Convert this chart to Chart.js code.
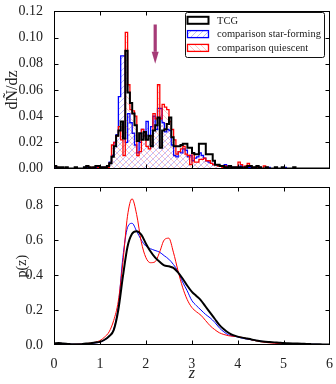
<!DOCTYPE html>
<html><head><meta charset="utf-8">
<script src="https://cdn.jsdelivr.net/npm/chart.js@4/dist/chart.umd.min.js"></script>
<style>
html,body{margin:0;padding:0;background:#fff;}
#wrap{position:relative;width:336px;height:384px;overflow:hidden;}
#c1{position:absolute;left:0;top:0;}
#c2{position:absolute;left:0;top:176px;}
</style></head><body>
<div id="wrap">
<canvas id="c1" width="336" height="180"></canvas>
<canvas id="c2" width="336" height="208"></canvas>
</div>
<script>
// ---- data ----
const seriesLabels = ['TCG', 'comparison star-forming', 'comparison quiescent'];
const binStart = 0, binWidth = 0.05; // histogram bins: 0.00 .. 6.00
const histTCG = [
 0.002,0.002,0.001,0.001,0.001,0,0.001,0,0,0, 0.001,0,0,0,0.001,0.002,0.001,0,0.001,0.002,
 0.002,0.001,0.001,0.001,0.002,0.004,0.009,0.017,0.025,0.029, 0.036,0.023,0.090,0.058,0.050,0.042,0.033,0.021,0.027,0.022,
 0.028,0.022,0.025,0.017,0.029,0.033,0.039,0.016,0.029,0.030, 0.034,0.039,0.024,0.017,0.017,0.017,0.018,0.019,0.019,0.016,
 0.016,0.012,0.011,0.011,0.019,0.019,0.019,0.011,0.011,0.011, 0.006,0.003,0.003,0.002,0.002,0.001,0.001,0.002,0.001,0.001,
 0.001,0.001,0.001,0,0.001,0.002,0.002,0.001,0.001,0.002, 0.001,0,0,0.001,0,0,0,0.001,0,0,
 0.001,0,0,0,0,0.001,0,0,0,0, 0,0,0,0,0,0,0,0,0,0];
const histSF = [
 0.001,0.001,0,0,0,0,0,0,0,0, 0,0,0,0,0.001,0.001,0,0,0,0.001,
 0.001,0.001,0.001,0.001,0.002,0.005,0.010,0.020,0.026,0.055, 0.086,0.086,0.020,0.042,0.035,0.027,0.018,0.012,0.020,0.030,
 0.025,0.036,0.025,0.032,0.040,0.030,0.046,0.046,0.035,0.028, 0.030,0.029,0.018,0.010,0.009,0.013,0.012,0.015,0.014,0.009,
 0.010,0.006,0.008,0.009,0.012,0.010,0.008,0.006,0.005,0.004, 0.003,0.003,0.003,0.002,0.002,0.003,0.002,0.002,0.001,0.001,
 0.001,0.001,0.002,0.001,0.001,0.001,0.001,0,0.001,0, 0.001,0,0,0,0.001,0,0,0,0,0,
 0,0.001,0,0,0,0,0,0,0,0, 0,0,0,0,0,0,0,0,0,0];
const histQ = [
 0,0,0.001,0,0,0,0,0,0,0, 0,0,0,0,0,0,0.001,0.001,0.001,0,
 0.001,0,0.001,0.001,0.001,0.004,0.018,0.020,0.025,0.032, 0.022,0.010,0.104,0.064,0.045,0.044,0.040,0.010,0.013,0.030,
 0.025,0.017,0.015,0.025,0.042,0.038,0.064,0.038,0.049,0.047, 0.045,0.036,0.030,0.022,0.011,0.013,0.015,0.017,0.011,0.010,
 0.003,0.012,0.005,0.005,0.007,0.007,0.008,0.006,0.006,0.004, 0.003,0.003,0.002,0.002,0.001,0.002,0.001,0.001,0.001,0.001,
 0.001,0.005,0.003,0.001,0.002,0.004,0.002,0.001,0.001,0.001, 0,0,0.002,0.001,0,0,0,0,0,0,
 0,0,0,0,0,0,0,0,0,0, 0,0,0,0,0,0,0,0,0,0];

const zGrid = [0,0.1,0.2,0.3,0.4,0.5,0.6,0.7,0.8,0.9,1.0,1.1,1.2,1.3,1.4,1.5,1.6,1.7,1.8,1.9,2.0,2.1,2.2,2.3,2.4,2.5,2.6,2.7,2.8,2.9,3.0,3.1,3.2,3.3,3.4,3.5,3.6,3.7,3.8,3.9,4.0,4.1,4.2,4.3,4.4,4.5,4.6,4.7,4.8,4.9,5.0,5.1,5.2,5.3,5.4,5.5,5.6,5.7,5.8,5.9,6.0];
const pzTCG = [0.008,0.012,0.008,0.006,0.004,0.004,0.005,0.008,0.010,0.014,0.018,0.030,0.050,0.085,0.20,0.39,0.56,0.635,0.65,0.63,0.58,0.535,0.50,0.475,0.455,0.45,0.44,0.415,0.38,0.34,0.305,0.28,0.255,0.22,0.185,0.15,0.115,0.09,0.07,0.056,0.048,0.042,0.037,0.032,0.026,0.022,0.019,0.017,0.015,0.013,0.011,0.010,0.009,0.008,0.007,0.006,0.005,0.004,0.004,0.003,0.003];
const pzSF = [0.006,0.010,0.007,0.005,0.004,0.004,0.005,0.007,0.009,0.012,0.016,0.028,0.048,0.09,0.22,0.50,0.67,0.695,0.65,0.60,0.565,0.55,0.54,0.53,0.51,0.49,0.46,0.42,0.36,0.31,0.255,0.225,0.20,0.175,0.155,0.13,0.098,0.075,0.058,0.051,0.046,0.039,0.034,0.030,0.026,0.022,0.018,0.015,0.013,0.011,0.009,0.008,0.007,0.006,0.005,0.005,0.004,0.004,0.003,0.003,0.002];
const pzQ = [0.004,0.006,0.005,0.004,0.003,0.004,0.005,0.008,0.011,0.016,0.025,0.045,0.075,0.14,0.25,0.47,0.735,0.835,0.745,0.59,0.50,0.47,0.475,0.53,0.60,0.61,0.53,0.425,0.33,0.26,0.215,0.19,0.17,0.14,0.11,0.088,0.07,0.06,0.053,0.05,0.048,0.043,0.037,0.030,0.024,0.019,0.015,0.012,0.010,0.008,0.007,0.006,0.005,0.004,0.004,0.003,0.003,0.002,0.002,0.002,0.002];

const xTicks = [0,1,2,3,4,5,6];
const yTicksTop = [0,0.02,0.04,0.06,0.08,0.10,0.12];
const yTicksBottom = [0,0.2,0.4,0.6,0.8];
const arrowZ = 2.2, arrowFrom = 0.110, arrowTo = 0.080;

// ---- helpers ----
const FONT = 'Liberation Serif';
const TXT = '#222';
function stepPts(h){
  const pts = h.map((v,i)=>({x:+(binStart+i*binWidth).toFixed(2), y:v}));
  pts.push({x:+(binStart+h.length*binWidth).toFixed(2), y:h[h.length-1]});
  return pts;
}
function curvePts(p){ return zGrid.map((z,i)=>({x:z,y:p[i]})); }
function hatch(color, dir){
  const s = 6, c = document.createElement('canvas'); c.width = c.height = s;
  const g = c.getContext('2d'); g.strokeStyle = color; g.lineWidth = 0.8; g.beginPath();
  if (dir > 0) {
    g.moveTo(-1,s+1); g.lineTo(s+1,-1);
    g.moveTo(-s/2-1,s/2+1); g.lineTo(s/2+1,-s/2-1);
    g.moveTo(s/2-1,s*1.5+1); g.lineTo(s*1.5+1,s/2-1);
  } else {
    g.moveTo(-1,-1); g.lineTo(s+1,s+1);
    g.moveTo(-s/2-1,s/2-1); g.lineTo(s/2+1,s*1.5+1);
    g.moveTo(s/2-1,-s/2-1); g.lineTo(s*1.5+1,s/2+1);
  }
  g.stroke();
  return g.createPattern(c,'repeat');
}
const hatchSF = hatch('rgba(60,60,255,0.45)', 1);
const hatchQ = hatch('rgba(255,60,60,0.38)', -1);

const framePlugin = {
  id:'frame',
  afterDraw(chart){
    const {ctx, chartArea:a, scales} = chart;
    ctx.save(); ctx.strokeStyle = '#000'; ctx.lineWidth = 1;
    const L = Math.round(a.left)+0.5, R = Math.round(a.right)-0.5, T = Math.round(a.top)+0.5, B = Math.round(a.bottom)-0.5;
    ctx.strokeRect(L, T, R-L, B-T);
    ctx.beginPath();
    scales.x.ticks.forEach(t=>{
      const px = Math.round(scales.x.getPixelForValue(t.value))+0.5;
      if (px <= L+1 || px >= R-1) return;
      ctx.moveTo(px,B); ctx.lineTo(px,B-4); ctx.moveTo(px,T); ctx.lineTo(px,T+4);
    });
    scales.y.ticks.forEach(t=>{
      const py = Math.round(scales.y.getPixelForValue(t.value))+0.5;
      if (py <= T+1 || py >= B-1) return;
      ctx.moveTo(L,py); ctx.lineTo(L+4,py); ctx.moveTo(R,py); ctx.lineTo(R-4,py);
    });
    ctx.stroke(); ctx.restore();
  }
};
const arrowPlugin = {
  id:'arrow',
  afterDatasetsDraw(chart){
    const {ctx, scales:{x,y}} = chart;
    const px = x.getPixelForValue(arrowZ), y0 = y.getPixelForValue(arrowFrom), y1 = y.getPixelForValue(arrowTo);
    const head = 12, hw = 3.5, sw = 1.6;
    ctx.save(); ctx.fillStyle = 'rgba(150,25,95,0.85)';
    ctx.fillRect(px-sw, y0, sw*2, (y1-head)-y0);
    ctx.beginPath(); ctx.moveTo(px-hw, y1-head); ctx.lineTo(px+hw, y1-head); ctx.lineTo(px, y1); ctx.closePath(); ctx.fill();
    ctx.restore();
  }
};
const legendPlugin = {
  id:'boxlegend',
  afterDraw(chart){
    const {ctx} = chart;
    const bx = 185.5, by = 12.5, bw = 139, bh = 45;
    ctx.save();
    ctx.fillStyle = '#fff'; ctx.strokeStyle = '#111'; ctx.lineWidth = 1;
    ctx.beginPath(); ctx.roundRect(bx, by, bw, bh, 2); ctx.fill(); ctx.stroke();
    ctx.font = '10.5px "' + FONT + '"'; ctx.textBaseline = 'middle'; ctx.fillStyle = TXT;
    chart.data.datasets.forEach((d,i)=>{
      const cy = 20.3 + i*13.8;
      const rx = 187.5, ry = cy-3.5, rw = 21, rh = 7;
      if (d.fill) { ctx.fillStyle = d.backgroundColor; ctx.fillRect(rx, ry, rw, rh); }
      ctx.strokeStyle = d.borderColor; ctx.lineWidth = d.borderWidth;
      ctx.strokeRect(rx, ry, rw, rh);
      ctx.fillStyle = TXT; ctx.fillText(d.label, 217, cy+0.5);
    });
    ctx.restore();
  }
};
const fixedTicks = arr => s => { s.ticks = arr.map(v=>({value:v})); };

// ---- top panel: histograms ----
new Chart(document.getElementById('c1'), {
  type:'line',
  data:{datasets:[
    {label:seriesLabels[0], data:stepPts(histTCG), stepped:'after', borderColor:'#000', borderWidth:2, fill:false, pointRadius:0, order:0},
    {label:seriesLabels[1], data:stepPts(histSF), stepped:'after', borderColor:'#0000ff', borderWidth:1.3, backgroundColor:hatchSF, fill:'origin', pointRadius:0, order:2},
    {label:seriesLabels[2], data:stepPts(histQ), stepped:'after', borderColor:'#ff0000', borderWidth:1.3, backgroundColor:hatchQ, fill:'origin', pointRadius:0, order:1}
  ]},
  options:{
    responsive:false, animation:false, devicePixelRatio:1,
    layout:{padding:{top:7,right:6,bottom:10,left:0}},
    plugins:{legend:{display:false}, tooltip:{enabled:false}},
    scales:{
      x:{type:'linear', min:0, max:6, afterBuildTicks:fixedTicks(xTicks), ticks:{display:false}, grid:{display:false}, border:{display:false}, afterFit:s=>{s.height=0;}},
      y:{type:'linear', min:0, max:0.12, afterBuildTicks:fixedTicks(yTicksTop),
         ticks:{callback:v=>v.toFixed(2), color:TXT, padding:3, font:{family:FONT, size:14}},
         grid:{display:false}, border:{display:false},
         title:{display:true, text:'dÑ/dz', color:TXT, font:{family:FONT, size:16}, padding:{top:3.5,bottom:0}},
         afterFit:s=>{s.width=54;}}
    }
  },
  plugins:[framePlugin, arrowPlugin, legendPlugin]
});

// ---- bottom panel: p(z) ----
new Chart(document.getElementById('c2'), {
  type:'line',
  data:{datasets:[
    {label:seriesLabels[0], data:curvePts(pzTCG), borderColor:'#000', borderWidth:2, pointRadius:0, fill:false, cubicInterpolationMode:'monotone', order:0},
    {label:seriesLabels[1], data:curvePts(pzSF), borderColor:'#0000ff', borderWidth:1, pointRadius:0, fill:false, cubicInterpolationMode:'monotone', order:2},
    {label:seriesLabels[2], data:curvePts(pzQ), borderColor:'#ff0000', borderWidth:1, pointRadius:0, fill:false, cubicInterpolationMode:'monotone', order:1}
  ]},
  options:{
    responsive:false, animation:false, devicePixelRatio:1,
    layout:{padding:{top:7,right:6,bottom:0,left:0}},
    plugins:{legend:{display:false}, tooltip:{enabled:false}},
    scales:{
      x:{type:'linear', min:0, max:6, afterBuildTicks:fixedTicks(xTicks),
         ticks:{callback:v=>String(v), color:TXT, padding:3, maxRotation:0, font:{family:FONT, size:14}},
         grid:{display:false}, border:{display:false},
         title:{display:true, text:'z', color:TXT, font:{family:FONT, size:16, style:'italic'}, padding:{top:0,bottom:1}},
         afterFit:s=>{s.height=39;}},
      y:{type:'linear', min:0, max:0.9, afterBuildTicks:fixedTicks(yTicksBottom),
         ticks:{callback:v=>v.toFixed(1), color:TXT, padding:3, font:{family:FONT, size:14}},
         grid:{display:false}, border:{display:false},
         title:{display:true, text:'p(z)', color:TXT, font:{family:FONT, size:14}, padding:{top:14,bottom:0}},
         afterFit:s=>{s.width=54;}}
    }
  },
  plugins:[framePlugin]
});
</script>
</body></html>
